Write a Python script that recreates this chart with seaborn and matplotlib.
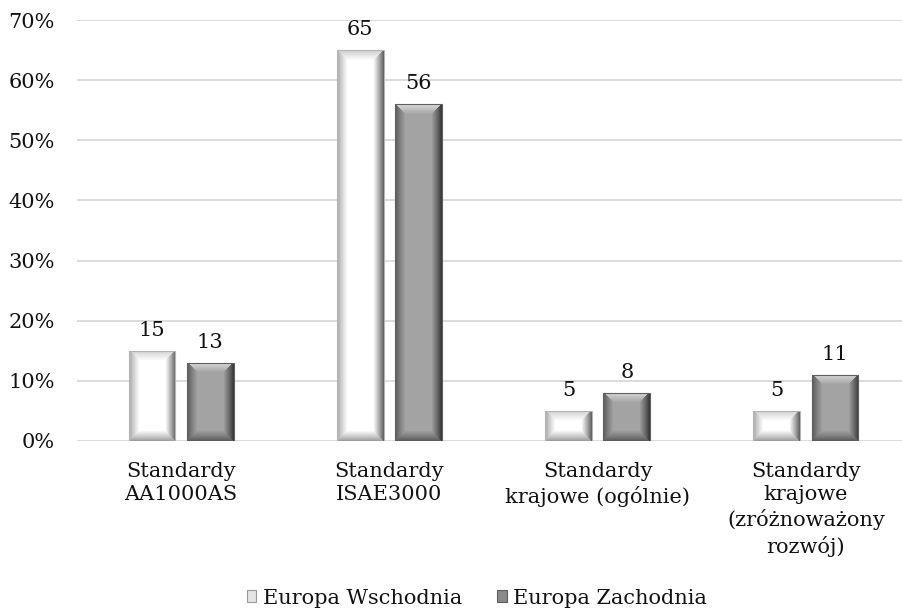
import numpy as np
import pandas as pd
import matplotlib
matplotlib.use("Agg")
import matplotlib.pyplot as plt
from matplotlib.patches import Patch
import seaborn as sns

# --- data -------------------------------------------------------------
categories = [
    "Standardy\nAA1000AS",
    "Standardy\nISAE3000",
    "Standardy\nkrajowe (ogólnie)",
    "Standardy\nkrajowe\n(zróżnoważony\nrozwój)",
]
series_names = ["Europa Wschodnia", "Europa Zachodnia"]
east_values = [15, 65, 5, 5]
west_values = [13, 56, 8, 11]
y_ticks = [0, 10, 20, 30, 40, 50, 60, 70]
y_tick_labels = ["0%", "10%", "20%", "30%", "40%", "50%", "60%", "70%"]

df = pd.DataFrame({
    "kategoria": categories * 2,
    "region": [series_names[0]] * 4 + [series_names[1]] * 4,
    "wartosc": east_values + west_values,
})

sns.set_theme(style="white")
plt.rcParams["font.family"] = ["DejaVu Serif"]
FS = 15
TXT = "#111111"

W, H, DPI = 902, 609, 100
fig = plt.figure(figsize=(W / DPI, H / DPI), dpi=DPI)
ax = fig.add_axes([77 / W, 1 - 441 / H, (910 - 77) / W, (441 - 20) / H])

palette = {series_names[0]: "#f4f4f4", series_names[1]: "#a6a6a6"}
sns.barplot(data=df, x="kategoria", y="wartosc", hue="region",
            order=categories, hue_order=series_names, palette=palette,
            width=0.56, gap=0.2, dodge=True, legend=False, ax=ax,
            saturation=1, zorder=2)

ax.set_xlim(-0.5, 3.5)
ax.set_ylim(0, 70)
ax.set_yticks(y_ticks)
ax.set_yticklabels(y_tick_labels)
ax.set_xlabel("")
ax.set_ylabel("")
for s in ax.spines.values():
    s.set_visible(False)
ax.yaxis.grid(True, color="#d9d9d9", linewidth=1.3, zorder=0)
ax.set_axisbelow(True)
ax.tick_params(axis="y", length=0, pad=16, labelsize=FS, labelcolor=TXT)
ax.tick_params(axis="x", length=0, pad=15, labelsize=FS, labelcolor=TXT)
for lbl in ax.get_xticklabels():
    lbl.set_linespacing(1.3)
    lbl.set_multialignment("center")


def bevel(wpx, hpx, base, edges, b=10.0):
    """Picture-frame bevel shading: each facet fades from its edge tone to the base."""
    wpx, hpx = max(int(round(wpx)), 2), max(int(round(hpx)), 2)
    xs = np.arange(wpx)[None, :].repeat(hpx, 0).astype(float)
    ys = np.arange(hpx)[:, None].repeat(wpx, 1).astype(float)
    d = np.stack([xs, wpx - 1 - xs, ys, hpx - 1 - ys])  # left, right, top, bottom
    bb = min(b, wpx / 2.5, hpx / 2.5)
    idx = np.argmin(d, axis=0)
    dmin = np.min(d, axis=0)
    tones = np.array(edges)[idx]
    t = np.clip(dmin / bb, 0, 1) ** 0.9
    img = tones * (1 - t) + base * t
    return np.dstack([img, img, img])


fig.canvas.draw()
styles = {
    0: dict(base=1.0, edges=[0.66, 0.38, 0.80, 0.62], ec="#b5b5b5"),
    1: dict(base=0.64, edges=[0.36, 0.22, 0.86, 0.36], ec="#5e5e5e"),
}
bars = list(ax.patches)
for i, p in enumerate(bars):
    st = styles[i // 4]
    x0, y0 = p.get_x(), p.get_y()
    w, h = p.get_width(), p.get_height()
    (px0, py0), (px1, py1) = ax.transData.transform([(x0, y0), (x0 + w, y0 + h)])
    img = bevel(px1 - px0, py1 - py0, st["base"], st["edges"])
    im = ax.imshow(img, extent=(x0, x0 + w, y0, y0 + h), origin="upper",
                   aspect="auto", interpolation="bilinear", zorder=3)
    im.set_clip_path(p)
    p.set_edgecolor(st["ec"])
    p.set_linewidth(0.8)
    p.set_zorder(4)
    p.set_facecolor("none")
ax.set_xlim(-0.5, 3.5)
ax.set_ylim(0, 70)

for c in ax.containers:
    ax.bar_label(c, labels=[f"{v:.0f}" for v in c.datavalues], padding=8,
                 fontsize=FS, color=TXT)

handles = [Patch(facecolor="#e4e4e4", edgecolor="#9a9a9a", linewidth=0.8),
           Patch(facecolor="#8a8a8a", edgecolor="#5e5e5e", linewidth=0.8)]
fig.legend(handles, series_names, loc="center", ncol=2,
           bbox_to_anchor=(477 / W, 1 - 598 / H), frameon=False, fontsize=FS,
           handlelength=0.45, handleheight=0.45, handletextpad=0.3,
           columnspacing=1.7, labelcolor=TXT, borderpad=0.2)

fig.savefig("out.png", dpi=DPI)
